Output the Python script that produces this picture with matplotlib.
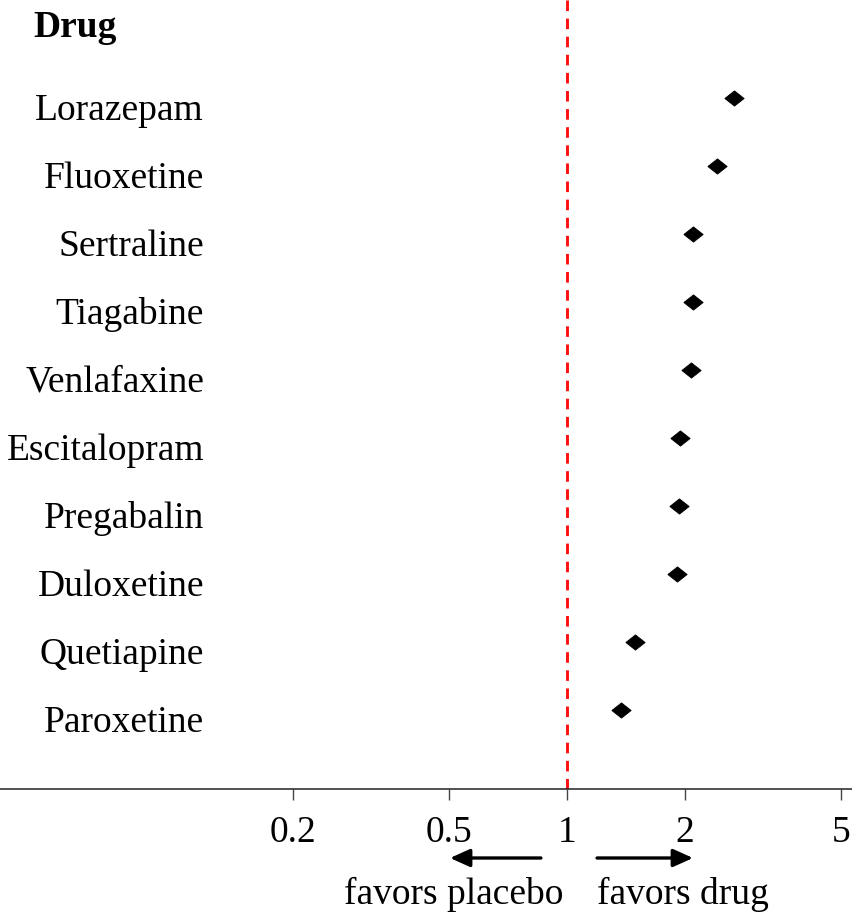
import matplotlib
matplotlib.use("Agg")
import matplotlib.pyplot as plt
import matplotlib.transforms as mtransforms
import numpy as np

# Odds ratios (drug vs placebo) for each treatment
drugs = ["Lorazepam", "Fluoxetine", "Sertraline", "Tiagabine", "Venlafaxine",
         "Escitalopram", "Pregabalin", "Duloxetine", "Quetiapine", "Paroxetine"]
odds_ratio = [2.66, 2.41, 2.09, 2.09, 2.07, 1.945, 1.93, 1.905, 1.49, 1.37]

tick_values = [0.2, 0.5, 1, 2, 5]
tick_labels = ["0.2", "0.5", "1", "2", "5"]

FONT = "Liberation Serif"
FS = 27

W, H = 852, 913
fig = plt.figure(figsize=(W / 100, H / 100), dpi=100)
ax_bottom_px = 789
ax = fig.add_axes([0, (H - ax_bottom_px) / H, 1, ax_bottom_px / H])

ax.set_xscale("log")
ax.set_xlim(0.03578, 5.333)
row_px, first_px = 68.0, 98.0
ax.set_ylim((ax_bottom_px - first_px) / row_px, -first_px / row_px)

# reference line at no effect
ax.axvline(1, color="#ff1010", lw=2.1, dashes=(10.5 / 2.9, 7.5 / 2.9), zorder=1)

# diamond markers
diamond = [(-1, 0), (0, 0.79), (1, 0), (0, -0.79), (-1, 0)]
y = np.arange(len(drugs))
ax.plot(odds_ratio, y, linestyle="none", marker=diamond, markersize=13.9,
        color="black", mec="black", mew=0.6, zorder=3)

# row labels
trans = mtransforms.blended_transform_factory(ax.transAxes, ax.transData)
for i, name in enumerate(drugs):
    ax.text(204 / W, i + 22 / row_px, name, transform=trans, ha="right",
            va="baseline", fontsize=FS, family=FONT)
fig.text(33 / W, 1 - 37 / H, "Drug", ha="left", va="baseline", fontsize=FS,
         family=FONT, fontweight="bold")

# axes styling
for s in ["left", "right", "top"]:
    ax.spines[s].set_visible(False)
ax.spines["bottom"].set_color("#222222")
ax.spines["bottom"].set_linewidth(1.1)
ax.set_yticks([])
ax.set_xticks(tick_values)
ax.set_xticklabels(tick_labels, fontsize=FS, family=FONT)
ax.xaxis.set_minor_locator(matplotlib.ticker.NullLocator())
ax.tick_params(axis="x", length=8, width=1.0, color="#444444", pad=11)

# direction arrows under the axis
arrow_y = 1 - 858 / H
astyle = dict(arrowstyle="-|>,head_length=0.6,head_width=0.27", lw=2.4,
              color="black", mutation_scale=20, shrinkA=0, shrinkB=0)
ax.annotate("", xy=(0.503, arrow_y), xytext=(0.858, arrow_y),
            xycoords=("data", "figure fraction"),
            textcoords=("data", "figure fraction"), arrowprops=astyle)
ax.annotate("", xy=(2.096, arrow_y), xytext=(1.193, arrow_y),
            xycoords=("data", "figure fraction"),
            textcoords=("data", "figure fraction"), arrowprops=astyle)
fig.text(453.5 / W, 1 - 904 / H, "favors placebo", ha="center", va="baseline",
         fontsize=FS, family=FONT)
fig.text(682.5 / W, 1 - 904 / H, "favors drug", ha="center", va="baseline",
         fontsize=FS, family=FONT)

fig.savefig("out.png", dpi=100)
